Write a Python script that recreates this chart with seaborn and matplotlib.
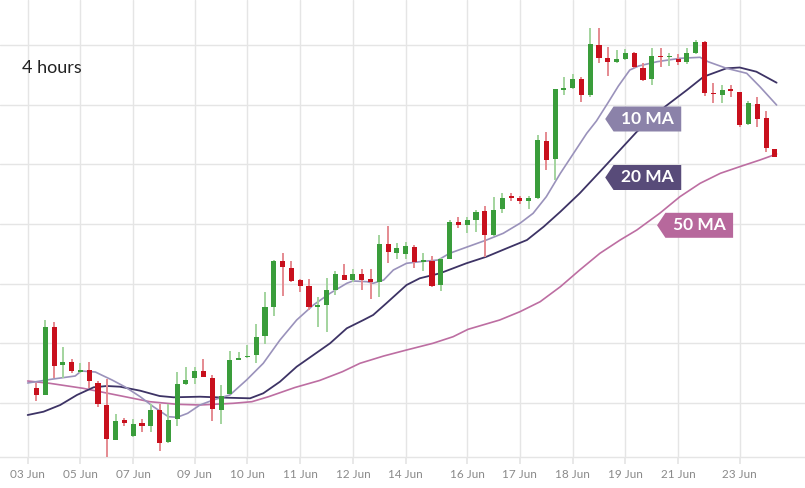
import matplotlib
matplotlib.use("Agg")
import matplotlib.pyplot as plt
from matplotlib.patches import Polygon
import numpy as np
import pandas as pd
import seaborn as sns

# 4-hour candles, x = candle number (03 Jun = 0), price in arbitrary units
opens = [73.7, 67, 134.7, 97, 99.7, 90, 91.7, 78.7, 57.3, 22.3,
         41.7, 26, 39, 36, 52, 19.7, 42.7, 77.7, 83.7, 91.3,
         84.3, 52.3, 68.3, 102, 104.7, 107, 126, 154.7, 201, 194.3,
         182, 176.3, 155, 157, 172.3, 187, 182, 187.7, 183.3, 179.7,
         217.7, 209.3, 208, 215.3, 200, 201, 177, 202.7, 240, 237,
         242.3, 251, 227, 252.7, 266, 263.7, 261.3, 263.7, 321.3, 302.7,
         372.3, 373.7, 383, 367, 417, 404.3, 400, 403.3, 409.3, 394.3,
         382.7, 406.3, 404.7, 402.7, 400.3, 408.7, 419.7, 368.7, 367, 372.7,
         370.3, 337.7, 358, 343.7, 313]
closes = [67, 135.3, 96.3, 100.3, 91.3, 91.7, 81, 57.7, 23.3, 41.3,
          39.3, 38, 36.3, 52, 19.3, 42, 77.7, 82, 91.3, 85.3,
          53, 66.3, 102, 103.7, 106.3, 125.3, 154.7, 201, 194.7, 181,
          176.3, 154.7, 157, 172.3, 187.7, 182, 187.7, 182, 179.7, 217.7,
          210.3, 213.7, 216.3, 200.3, 201.7, 176, 202.7, 240.3, 236.7, 242.3,
          250.3, 227, 252, 264.3, 263.7, 261.3, 263.7, 322, 302, 373,
          374, 383, 367, 417.7, 404.3, 400, 403.3, 408.7, 394.7, 382,
          406, 404.7, 406.3, 400.3, 409.3, 420.3, 368.7, 367.7, 372, 371,
          337, 359.3, 342.7, 314.3, 305.3]
highs = [79.3, 142, 139.7, 115.3, 103, 98.7, 99.7, 81, 83, 48,
         44.3, 43, 43, 57.7, 58.3, 58.3, 90, 94.7, 95.3, 102.7,
         87, 77, 111, 109.7, 117, 137.7, 170.3, 202, 209.3, 201,
         182.7, 183, 164.7, 184.3, 191, 198, 193, 192.7, 192.7, 227,
         236.3, 218.7, 219.7, 216.7, 208.7, 206, 204.3, 242, 245.3, 244.7,
         252, 256.3, 265.3, 268.7, 268.7, 266.3, 266.3, 327, 329.7, 373,
         384.7, 388, 384.7, 433.7, 433.7, 415.3, 412, 413, 410.3, 398.7,
         413.7, 413.7, 408.7, 407.7, 413.7, 422, 421, 378.7, 377, 377,
         370.3, 361.3, 364.7, 351, 313]
lows = [61, 67, 83.7, 83.7, 88.7, 88.7, 73.7, 55.3, 5.3, 22.3,
        35.7, 25.3, 30, 30, 10.7, 18.7, 36, 77, 78, 84.7,
        41.3, 37.7, 68.3, 101.7, 103.7, 99.3, 117.7, 146.3, 166, 180.3,
        170.3, 152, 134.7, 129.7, 167, 182, 180.3, 172, 163, 164.7,
        198.7, 203, 202.7, 194.3, 191.3, 175.3, 171.3, 202.7, 234.3, 229.3,
        229.7, 204.7, 226, 248.7, 261.3, 257.7, 253, 263, 292, 282,
        367, 373, 359.7, 365.3, 399.3, 386, 398.7, 402, 393.7, 381,
        377, 394.7, 396.3, 397, 397.7, 408, 366, 359.3, 359.3, 365.3,
        335.3, 337, 335.3, 310.3, 305.3]

ma10_x = [0, 2.9, 5.4, 6.1, 7.7, 8.4, 9.6, 11.1, 12.8, 14.3, 16, 17, 18.2, 19.6,
          21.1, 23, 24.9, 26.8, 28.7, 30.6, 32.5, 34.4, 36.3, 37, 38.6, 39.3,
          40.5, 41.6, 43.1, 44.6, 46.7, 48, 50.3, 52.2, 54.1, 56, 57.5, 59,
          60.6, 62.1, 63.6, 64.7, 66, 67.2, 68.5, 69.5, 71.6, 74.2, 76.5, 77.4,
          79.5, 81.8, 83.3, 85.2]
ma10_y = [79, 83, 86, 91, 90, 87, 82, 75, 65.3, 55.3, 45.3, 44.7, 48.7, 57,
          62, 67, 82, 98.7, 122, 142, 157, 168.7, 178.7, 181, 180.3, 178.7,
          182, 192, 198.7, 200.3, 202, 208.7, 216, 222, 228.7, 238.7, 248.7, 265.3,
          288.7, 308.7, 328.7, 341, 359, 376, 392, 396, 400.3, 403.7, 404.7, 400.3,
          393.7, 388.7, 375.3, 357]

ma20_x = [0, 1.8, 3.7, 5.6, 7.5, 9, 10.5, 12.8, 15, 16.6, 19.6, 22.6, 25.3,
          26.8, 28.7, 30.6, 32.5, 34.4, 36.3, 38.2, 39.3, 40.8, 43.1, 44.6,
          46.9, 49.9, 52.2, 54.5, 56.8, 58.7, 60.6, 62.8, 65.1, 69.3, 72.5,
          75, 76.9, 79.5, 81, 82.9, 85.2]
ma20_y = [47, 50.3, 57, 67, 74.7, 76, 75.3, 71.3, 66, 64.7, 65.3, 64.3, 63.7,
          68.7, 80.3, 95.3, 107, 118.7, 133.7, 142, 147, 158.7, 177, 183.7,
          188.7, 198.7, 205.3, 213.7, 222, 235.3, 250.3, 268.7, 290.3, 330.3, 355.3,
          372, 385.3, 393.7, 394.5, 390.3, 379.3]

ma50_x = [0, 2.5, 6.3, 10.1, 13.9, 17, 19.6, 23.4, 25.5, 27.4, 30.4, 33.2,
          35.8, 37.8, 40.5, 43.1, 46.1, 48.4, 50.1, 53.7, 56, 58.3, 60.6, 62.8,
          65.1, 67.4, 69.3, 71.9, 74.2, 76.5, 78.8, 81, 83.3, 85.2]
ma50_y = [81, 78.7, 73.7, 67, 60.3, 57.7, 57, 58.7, 60.3, 65.3, 74.5, 81.5,
          90.3, 98.7, 106, 112, 118.7, 125.3, 132.7, 142, 150.3, 160.3, 175.3, 192,
          208.7, 222, 232, 248.7, 265.3, 278.7, 288.7, 295.3, 302, 308]

tick_pos = [0, 6, 12, 19, 25, 31, 37, 43, 50, 56, 62, 68, 74, 81]
tick_labels = ["03 Jun", "05 Jun", "07 Jun", "09 Jun", "10 Jun", "11 Jun", "12 Jun",
               "14 Jun", "16 Jun", "17 Jun", "18 Jun", "19 Jun", "21 Jun", "23 Jun"]

GREEN, RED = "#3a9d3b", "#c8101d"
GREEN_WICK, RED_WICK = "#a3d49e", "#e58a90"
GRID = "#e5e5e5"

sns.set_theme(style="whitegrid")
plt.rcParams['font.family'] = ['Lato', 'DejaVu Sans']

candles = pd.DataFrame({'open': opens, 'high': highs, 'low': lows, 'close': closes})
candles['x'] = np.arange(1, len(candles) + 1)
up = candles['close'] >= candles['open']

fig = plt.figure(figsize=(8.05, 4.88), dpi=100)
ax = fig.add_axes([0, 31 / 488, 1, 457 / 488])
ax.set_facecolor('white')

# moving averages
sns.lineplot(x=ma50_x, y=ma50_y, ax=ax, color="#bd6ea2", lw=1.2, zorder=2)
sns.lineplot(x=ma20_x, y=ma20_y, ax=ax, color="#3d3365", lw=1.3, zorder=2)
sns.lineplot(x=ma10_x, y=ma10_y, ax=ax, color="#9a92bb", lw=1.2, zorder=2)

# candles
ax.vlines(candles['x'], candles['low'], candles['high'],
          colors=np.where(up, GREEN_WICK, RED_WICK), lw=1.4, zorder=3)
body_lo = candles[['open', 'close']].min(axis=1)
body_h = np.maximum((candles['close'] - candles['open']).abs(), 1.6)
ax.bar(candles['x'], body_h, bottom=body_lo, width=0.58,
       color=np.where(up, GREEN, RED), zorder=4, linewidth=0)

# line tags
def tag(x0, yc, text, color):
    h, tip, w = 12.5, 0.95, 7.7
    pts = [(x0, yc), (x0 + tip, yc + h), (x0 + tip + w, yc + h),
           (x0 + tip + w, yc - h), (x0 + tip, yc - h)]
    ax.add_patch(Polygon(pts, closed=True, facecolor=color, edgecolor='none', zorder=6))
    ax.text(x0 + tip + w / 2, yc, text, color='white', fontsize=12.5,
            fontweight='bold', ha='center', va='center', zorder=7)

tag(65.7, 343, "10 MA", "#8b82a9")
tag(65.7, 284.5, "20 MA", "#584b79")
tag(71.6, 236.7, "50 MA", "#b7689c")

ax.set_xlim(-3.15, 88.43)
ax.set_ylim(5, 462)
ax.set_yticks(59 + 59.67 * np.arange(7))
ax.set_yticklabels([])
ax.set_xticks(tick_pos)
ax.set_xticklabels(tick_labels)
ax.grid(True, color=GRID, lw=1)
ax.tick_params(axis='x', length=5, color=GRID, labelsize=8.5, labelcolor='#8a8a8a',
               pad=4, bottom=True)
ax.tick_params(axis='y', length=0)
for side in ['top', 'right', 'left']:
    ax.spines[side].set_visible(False)
ax.spines['bottom'].set_color(GRID)
ax.spines['bottom'].set_linewidth(1)

fig.text(22 / 805, 1 - 68 / 488, "4 hours", fontsize=13, color='#222222',
         ha='left', va='center')

fig.savefig("out.png", dpi=100, facecolor='white')
